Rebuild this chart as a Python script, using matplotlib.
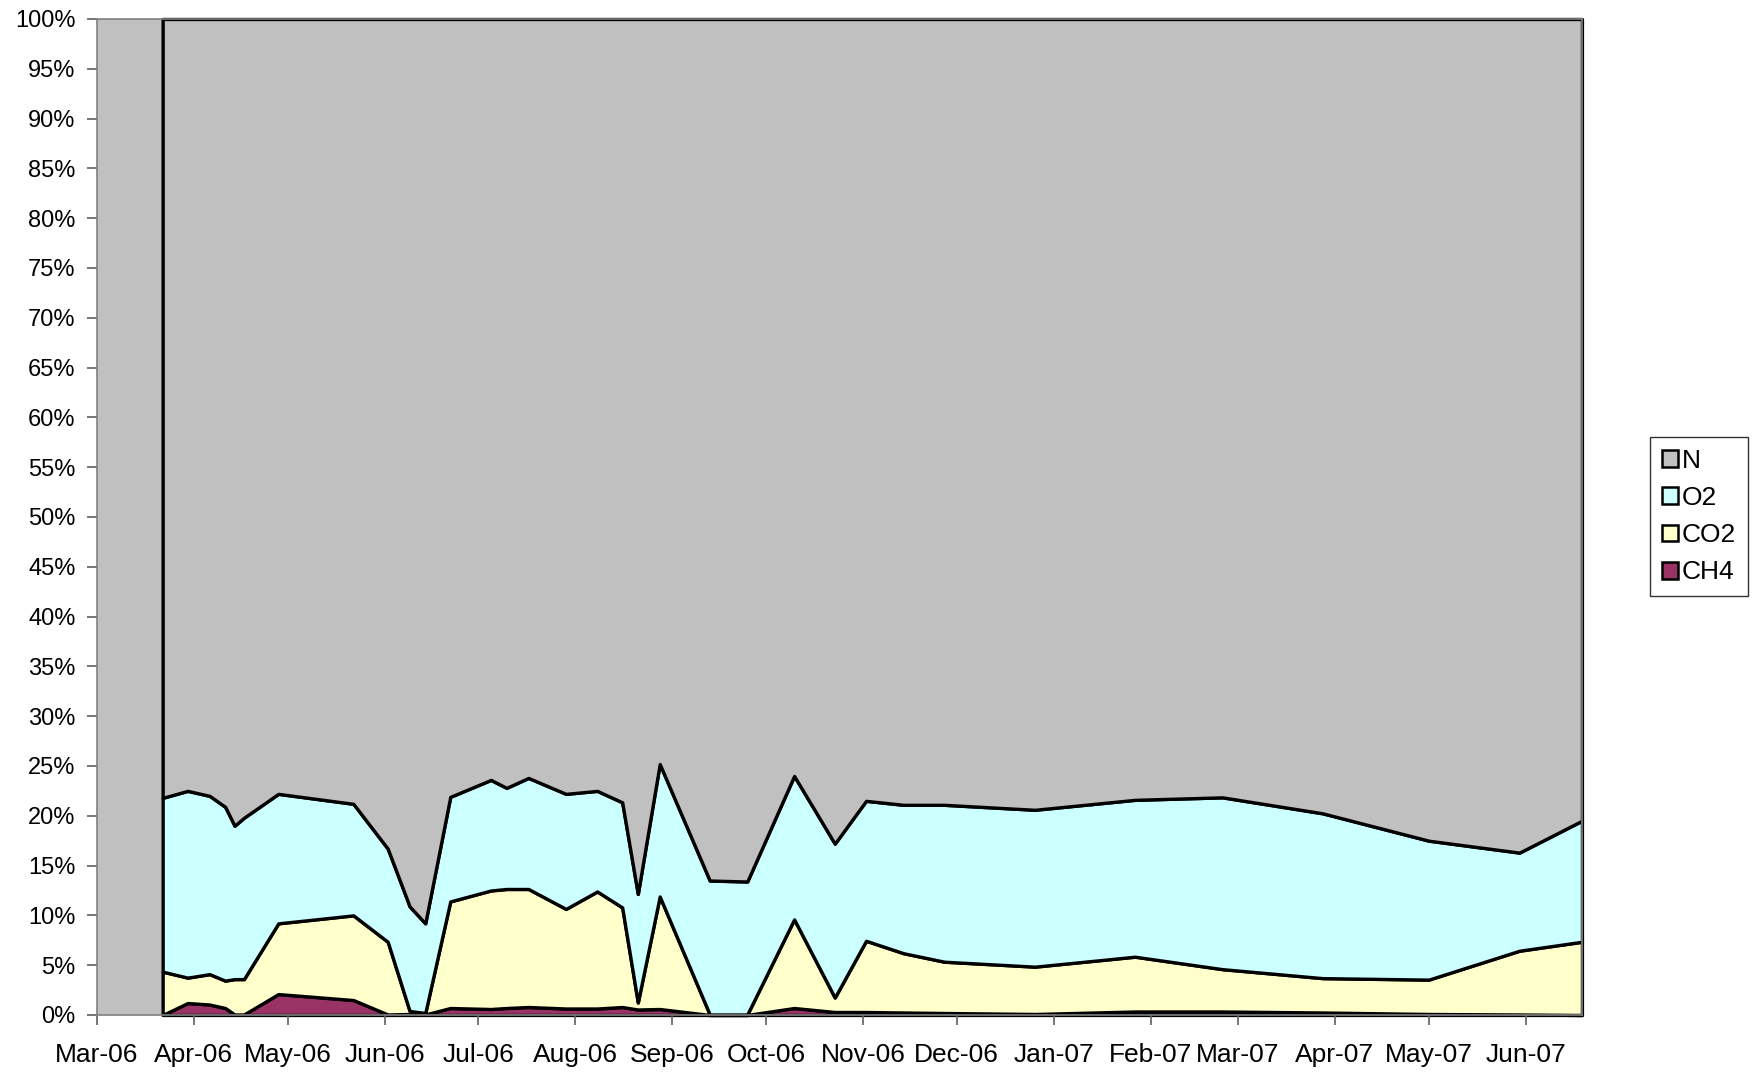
import datetime
import numpy as np
import matplotlib
matplotlib.use("Agg")
import matplotlib.pyplot as plt
import matplotlib.dates as mdates
from matplotlib.patches import Patch

plt.rcParams['font.family'] = ['Liberation Sans', 'DejaVu Sans']

# sampling dates
dates = [
    "2006-03-22", "2006-03-30", "2006-04-06", "2006-04-11", "2006-04-14", "2006-04-17",
    "2006-04-28", "2006-05-22", "2006-06-02", "2006-06-09", "2006-06-14", "2006-06-22",
    "2006-07-05", "2006-07-10", "2006-07-17", "2006-07-29", "2006-08-08", "2006-08-16",
    "2006-08-21", "2006-08-28", "2006-09-13", "2006-09-25", "2006-10-10", "2006-10-23",
    "2006-11-02", "2006-11-14", "2006-11-27", "2006-12-26", "2007-01-27", "2007-02-24",
    "2007-03-28", "2007-05-01", "2007-05-30", "2007-06-19",
]

# gas composition, %
ch4 = [0.0, 1.2, 1.05, 0.7, 0.05, 0.05, 2.1, 1.5, 0.05, 0.1, 0.05, 0.7,
       0.6, 0.7, 0.8, 0.65, 0.65, 0.8, 0.55, 0.6, 0.0, 0.0, 0.7, 0.3,
       0.3, 0.25, 0.2, 0.1, 0.35, 0.35, 0.25, 0.1, 0.05, 0.0]
co2 = [4.35, 2.55, 3.05, 2.75, 3.55, 3.55, 7.1, 8.5, 7.3, 0.3, 0.15, 10.7,
       11.9, 11.95, 11.85, 10.0, 11.75, 10.0, 0.7, 11.3, 0.05, 0.05, 8.9, 1.45,
       7.15, 5.95, 5.15, 4.75, 5.5, 4.25, 3.45, 3.45, 6.4, 7.35]
o2 = [17.45, 18.75, 17.9, 17.45, 15.4, 16.2, 13.0, 11.2, 9.35, 10.5, 9.0, 10.5,
      11.1, 10.15, 11.15, 11.55, 10.1, 10.55, 10.9, 13.3, 13.45, 13.35, 14.4, 15.45,
      14.05, 14.9, 15.75, 15.75, 15.75, 17.25, 16.55, 13.95, 9.85, 12.15]
n = [78.2, 77.5, 78.0, 79.1, 81.0, 80.2, 77.8, 78.8, 83.3, 89.1, 90.8, 78.1,
     76.4, 77.2, 76.2, 77.8, 77.5, 78.65, 87.85, 74.8, 86.5, 86.6, 76.0, 82.8,
     78.5, 78.9, 78.9, 79.4, 78.4, 78.15, 79.75, 82.5, 83.7, 80.5]

labels = ["CH4", "CO2", "O2", "N"]
colors = ["#993366", "#FFFFCC", "#CCFFFF", "#C0C0C0"]

x = [datetime.datetime.strptime(d, "%Y-%m-%d") for d in dates]
data = np.array([ch4, co2, o2, n], dtype=float)
pct = data / data.sum(axis=0) * 100  # 100% stacked

fig = plt.figure(figsize=(17.54, 10.72), dpi=100)
ax = fig.add_axes([0.0553, 0.0532, 0.8466, 0.9291])
ax.set_facecolor("#C0C0C0")

polys = ax.stackplot(x, pct, colors=colors, edgecolor="black", linewidth=2.4)
for p in polys:
    p.set_clip_on(False)

ax.set_xlim(datetime.datetime(2006, 3, 1), x[-1])
ax.set_ylim(0, 100)
ax.set_yticks(np.arange(0, 101, 5))
ax.set_yticklabels([f"{v}%" for v in range(0, 101, 5)])
ax.xaxis.set_major_locator(mdates.MonthLocator())
ax.xaxis.set_major_formatter(mdates.DateFormatter("%b-%y"))

for s in ax.spines.values():
    s.set_color("#808080")
    s.set_linewidth(1.2)
ax.tick_params(axis="y", direction="out", length=7, width=1.2, color="#606060",
               labelsize=17, pad=8.5)
ax.tick_params(axis="x", direction="out", length=7, width=1.2, color="#606060",
               labelsize=19, pad=13)

handles = [Patch(facecolor=c, edgecolor="black", linewidth=1.8, label=l)
           for c, l in zip(colors[::-1], labels[::-1])]
leg = fig.legend(handles=handles, loc="center left", bbox_to_anchor=(0.9407, 0.518),
                 fontsize=19, frameon=True, fancybox=False, shadow=False,
                 handlelength=0.6, handleheight=0.6, handletextpad=0.15,
                 labelspacing=0.5, borderpad=0.45, borderaxespad=0)
leg.get_frame().set_edgecolor("black")
leg.get_frame().set_linewidth(1.0)

fig.savefig("out.png", dpi=100)
